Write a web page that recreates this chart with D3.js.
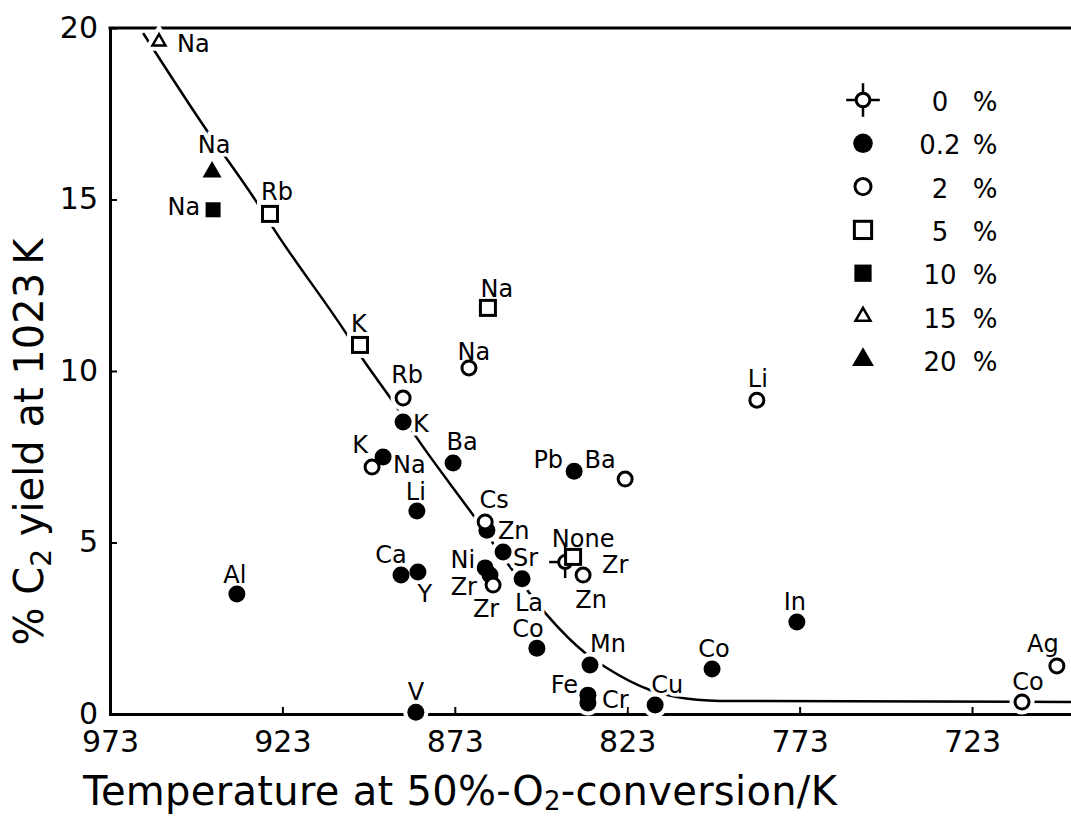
<!DOCTYPE html>
<html><head><meta charset="utf-8">
<script src="https://cdn.jsdelivr.net/npm/d3@7/dist/d3.min.js"></script>
<style>
body{margin:0;background:#fff}
svg{display:block}
text{font-family:"DejaVu Sans",sans-serif;fill:#000}
</style>
</head><body>
<svg id="c" width="1071" height="817"></svg>
<script>
// ---------------- data ----------------
const loadings = ["0", "0.2", "2", "5", "10", "15", "20"];
const markerTypes = ["cross", "fcircle", "ocircle", "osquare", "fsquare", "otri", "ftri"];
const xTicks = [973, 923, 873, 823, 773, 723];
const yTicks = [0, 5, 10, 15, 20];

// 0 % promoter
const temp0 = [841.0];
const yield0 = [4.43];
const names0 = ["None"];
// 0.2 %
const temp02 = [888.0, 893.8, 873.5, 884.0, 838.4, 863.7, 859.0, 864.2, 862.8, 853.5, 888.6, 883.7, 936.2, 849.2, 833.8, 834.4, 834.4, 814.9, 884.3, 798.4, 773.8];
const yield02 = [8.51, 7.49, 7.32, 5.92, 7.08, 5.36, 4.72, 4.26, 4.05, 3.94, 4.05, 4.14, 3.50, 1.92, 1.43, 0.55, 0.32, 0.26, 0.05, 1.31, 2.68];
const names02 = ["K", "Na", "Ba", "Li", "Pb", "Zn", "Sr", "Ni", "Zr", "La", "Ca", "Y", "Al", "Co", "Mn", "Fe", "Cr", "Cu", "V", "Co", "In"];
// 2 %
const temp2 = [888.0, 897.0, 868.9, 864.2, 861.9, 823.6, 835.8, 785.4, 708.5, 698.4];
const yield2 = [9.21, 7.20, 10.09, 5.60, 3.76, 6.85, 4.05, 9.15, 0.35, 1.40];
const names2 = ["Rb", "K", "Na", "Cs", "Zr", "Ba", "Zn", "Li", "Co", "Ag"];
// 5 %
const temp5 = [926.6, 900.5, 863.4, 838.7];
const yield5 = [14.58, 10.76, 11.84, 4.58];
const names5 = ["Rb", "K", "Na", "Zr"];
// 10 %
const temp10 = [943.1];
const yield10 = [14.70];
const names10 = ["Na"];
// 15 %
const temp15 = [958.8];
const yield15 = [19.60];
const names15 = ["Na"];
// 20 %
const temp20 = [943.4];
const yield20 = [15.80];
const names20 = ["Na"];

// trend line
const fitT = [963.4, 946.0, 930.9, 924.9, 904.8, 899.9, 890.9, 884.0, 867.7, 857.0, 846.3, 835.2, 828.9, 816.4, 809.1, 796.1, 694.3];
const fitY = [19.85, 17.17, 14.99, 14.05, 11.14, 10.38, 9.10, 8.05, 5.80, 4.29, 2.89, 1.78, 1.34, 0.70, 0.50, 0.38, 0.35];

// ---------------- label placement (layout) ----------------
const place0 = [["middle", 18, -15]];
const place02 = [["start",10,10],["start",10,16],["middle",9,-13],["middle",-1,-11],["end",-11,-3],["start",11,9],["start",10,14],["end",-10,0],["end",-13,20],["middle",7,32],["middle",-10,-12],["middle",7,30],["middle",-2,-11],["middle",-9,-11],["middle",18,-13],["end",-10,-2],["start",14,5],["middle",12,-12],["middle",0,-12],["middle",2,-12],["middle",-2,-12]];
const place2 = [["middle",4,-15],["middle",-12,-14],["middle",5,-8],["middle",9,-14],["middle",-7,32],["middle",-25,-11],["middle",8,33],["middle",1,-13],["middle",6,-12],["middle",-14,-14]];
const place5 = [["middle",7,-14],["middle",-1,-13],["middle",9,-11],["start",29,16]];
const place10 = [["end",-13,5]];
const place15 = [["start",18,10]];
const place20 = [["middle",2,-19]];

const seriesT = [temp0, temp02, temp2, temp5, temp10, temp15, temp20];
const seriesY = [yield0, yield02, yield2, yield5, yield10, yield15, yield20];
const seriesN = [names0, names02, names2, names5, names10, names15, names20];
const seriesP = [place0, place02, place2, place5, place10, place15, place20];

const points = [];
seriesT.forEach((ts, s) => ts.forEach((t, i) => points.push({
  t, v: seriesY[s][i], name: seriesN[s][i], type: markerTypes[s], place: seriesP[s][i]
})));

// ---------------- drawing ----------------
const svg = d3.select("#c");
const x = d3.scaleLinear().domain([973, 694.3]).range([110, 1071]);
const y = d3.scaleLinear().domain([0, 20]).range([714, 28]);

// axes
const gx = svg.append("g").attr("transform", `translate(0,${y(0)})`)
  .call(d3.axisBottom(x).tickValues(xTicks).tickSize(-7).tickSizeOuter(0).tickPadding(17).tickFormat(d3.format("d")));
const gy = svg.append("g").attr("transform", `translate(${x(973)},0)`)
  .call(d3.axisLeft(y).tickValues(yTicks).tickSize(-7).tickSizeOuter(0).tickPadding(12).tickFormat(d3.format("d")));
[gx, gy].forEach(g => {
  g.select(".domain").attr("stroke", "#000").attr("stroke-width", 3).attr("stroke-linecap", "square");
  g.selectAll(".tick line").attr("stroke", "#000").attr("stroke-width", 2);
  g.selectAll(".tick text").attr("font-size", 30).attr("font-family", "DejaVu Sans").attr("fill", "#000");
});
gy.selectAll(".tick text").attr("dy", "0.3em");
// top frame line
svg.append("line").attr("x1", x(973)).attr("x2", x(694.3)).attr("y1", y(20)).attr("y2", y(20))
  .attr("stroke", "#000").attr("stroke-width", 3).attr("stroke-linecap", "square");

// axis titles
const xt = svg.append("text").attr("x", 83).attr("y", 805).attr("font-size", 40).attr("letter-spacing", 0.3);
xt.append("tspan").text("Temperature at 50%-O");
xt.append("tspan").attr("font-size", 26).attr("dy", 5).text("2");
xt.append("tspan").attr("dy", -5).text("-conversion/K");

const yt = svg.append("text").attr("transform", "translate(43,442) rotate(-90)").attr("text-anchor", "middle").attr("font-size", 40);
yt.append("tspan").text("% C");
yt.append("tspan").attr("font-size", 28).attr("dy", 8).text("2");
yt.append("tspan").attr("dy", -8).text(" yield at 1023\u2009K");

// trend line
const fit = fitT.map((t, i) => [t, fitY[i]]);
svg.append("path").datum(fit)
  .attr("d", d3.line().x(d => x(d[0])).y(d => y(d[1])).curve(d3.curveMonotoneX))
  .attr("fill", "none").attr("stroke", "#000").attr("stroke-width", 2.5);

// marker drawing
function drawMarker(g, type, cx, cy, k, halo) {
  const stroke = halo ? "#fff" : "#000";
  const extra = halo ? 8 : 0;
  const sw = 3;
  if (type === "fcircle") {
    g.append("circle").attr("cx", cx).attr("cy", cy).attr("r", 8.5 * k)
      .attr("fill", halo ? "#fff" : "#000").attr("stroke", stroke).attr("stroke-width", extra);
  } else if (type === "ocircle") {
    g.append("circle").attr("cx", cx).attr("cy", cy).attr("r", 7 * k)
      .attr("fill", "#fff").attr("stroke", stroke).attr("stroke-width", sw + extra);
  } else if (type === "cross") {
    g.append("circle").attr("cx", cx).attr("cy", cy).attr("r", 6.5 * k)
      .attr("fill", "#fff").attr("stroke", stroke).attr("stroke-width", sw + extra);
    const r1 = 6.5 * k, r2 = 16 * k;
    [[1,0],[-1,0],[0,1],[0,-1]].forEach(([a,b]) => g.append("line")
      .attr("x1", cx + a*r1).attr("y1", cy + b*r1).attr("x2", cx + a*r2).attr("y2", cy + b*r2)
      .attr("stroke", stroke).attr("stroke-width", 2.5 + extra));
  } else if (type === "osquare" || type === "fsquare") {
    const s = 15 * k;
    g.append("rect").attr("x", cx - s/2).attr("y", cy - s/2).attr("width", s).attr("height", s)
      .attr("fill", halo ? "#fff" : (type === "fsquare" ? "#000" : "#fff"))
      .attr("stroke", stroke).attr("stroke-width", (type === "osquare" ? sw : 0) + extra);
  } else if (type === "otri" || type === "ftri") {
    const s = (type === "otri" ? 13 : 19) * k;
    const h = s * Math.sqrt(3) / 2;
    const pts = [[cx, cy - h*2/3], [cx + s/2, cy + h/3], [cx - s/2, cy + h/3]];
    g.append("polygon").attr("points", pts.map(p => p.join(",")).join(" "))
      .attr("fill", halo ? "#fff" : (type === "ftri" ? "#000" : "#fff"))
      .attr("stroke", stroke).attr("stroke-width", (type === "otri" ? 2.5 : 0) + extra)
      .attr("stroke-linejoin", "miter");
  }
}

const haloLayer = svg.append("g");
const markLayer = svg.append("g");
const textLayer = svg.append("g");

points.forEach(p => {
  const cx = x(p.t), cy = y(p.v);
  drawMarker(haloLayer, p.type, cx, cy, 1, true);
  const [anchor, dx, dy] = p.place;
  haloLayer.append("text").attr("x", cx + dx).attr("y", cy + dy).attr("text-anchor", anchor)
    .attr("font-size", 24).attr("stroke", "#fff").attr("stroke-width", 7)
    .style("fill", "#fff").text(p.name);
});
points.forEach(p => {
  const cx = x(p.t), cy = y(p.v);
  drawMarker(markLayer, p.type, cx, cy, 1, false);
  const [anchor, dx, dy] = p.place;
  textLayer.append("text").attr("x", cx + dx).attr("y", cy + dy).attr("text-anchor", anchor)
    .attr("font-size", 24).text(p.name);
});

// legend
const leg = svg.append("g");
loadings.forEach((l, i) => {
  const ly = 100 + i * 43.3;
  drawMarker(leg, markerTypes[i], 863, ly, i === 0 ? 1.05 : 1.15, false);
  leg.append("text").attr("x", 940).attr("y", ly + 11).attr("text-anchor", "middle").attr("font-size", 26).text(l);
  leg.append("text").attr("x", 985).attr("y", ly + 11).attr("text-anchor", "middle").attr("font-size", 26).text("%");
});
</script>
</body></html>
